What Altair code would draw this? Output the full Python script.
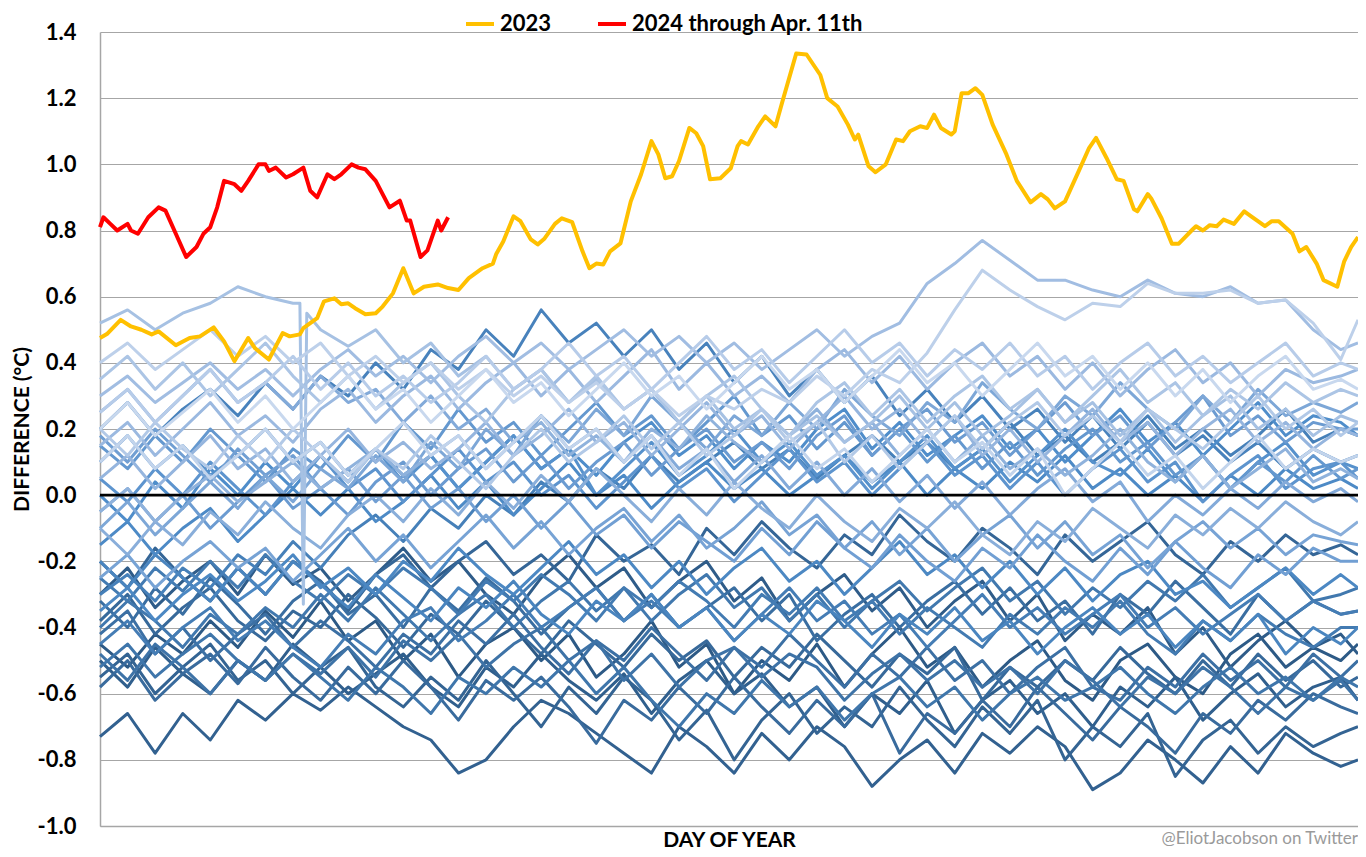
import altair as alt
import pandas as pd

# ---------------- data ----------------
GRID_DAYS = [1, 9, 17, 25, 33, 41, 49, 57, 65, 73, 81, 89, 97, 105, 113, 121, 129, 137, 145, 153,
             161, 169, 177, 185, 193, 201, 209, 217, 225, 233, 241, 249, 257, 265, 273, 281, 289,
             297, 305, 313, 321, 329, 337, 345, 353, 361, 366]

BLUE = {
    1982: [-0.45,-0.52,-0.42,-0.48,-0.38,-0.46,-0.35,-0.43, -0.32,-0.44,-0.38,-0.50,-0.42,-0.55,-0.45,-0.40,
           -0.50,-0.42,-0.55,-0.48,-0.38,-0.52,-0.45,-0.60, -0.50,-0.56,-0.45,-0.58,-0.48,-0.40,-0.52,-0.46,
           -0.58,-0.50,-0.44,-0.56,-0.62,-0.50,-0.45,-0.55, -0.60,-0.48,-0.42,-0.52,-0.46,-0.50,-0.45],
    1983: [-0.30,-0.22,-0.34,-0.26,-0.20,-0.30,-0.18,-0.27, -0.22,-0.32,-0.24,-0.16,-0.26,-0.20,-0.30,-0.36,
           -0.25,-0.18,-0.28,-0.22,-0.34,-0.26,-0.20,-0.32, -0.25,-0.38,-0.30,-0.24,-0.35,-0.28,-0.40,-0.32,
           -0.26,-0.38,-0.30,-0.44,-0.36,-0.42,-0.34,-0.48, -0.40,-0.52,-0.44,-0.38,-0.46,-0.42,-0.48],
    1984: [-0.50,-0.58,-0.46,-0.54,-0.60,-0.50,-0.56,-0.45, -0.52,-0.60,-0.54,-0.48,-0.58,-0.64,-0.52,-0.58,
           -0.48,-0.56,-0.62,-0.54,-0.66,-0.56,-0.50,-0.60, -0.54,-0.64,-0.58,-0.70,-0.60,-0.66,-0.56,-0.72,
           -0.62,-0.56,-0.66,-0.60,-0.70,-0.58,-0.64,-0.55, -0.68,-0.60,-0.54,-0.64,-0.58,-0.55,-0.62],
    1985: [-0.73,-0.66,-0.78,-0.66,-0.74,-0.62,-0.68,-0.60, -0.65,-0.58,-0.64,-0.70,-0.74,-0.84,-0.80,-0.70,
           -0.62,-0.66,-0.72,-0.78,-0.84,-0.70,-0.76,-0.84, -0.72,-0.80,-0.70,-0.76,-0.88,-0.80,-0.74,-0.84,
           -0.72,-0.78,-0.70,-0.76,-0.89,-0.84,-0.74,-0.80, -0.87,-0.76,-0.84,-0.72,-0.78,-0.82,-0.80],
    1986: [-0.55,-0.48,-0.60,-0.52,-0.45,-0.56,-0.50,-0.60, -0.52,-0.46,-0.58,-0.64,-0.55,-0.62,-0.50,-0.60,
           -0.70,-0.58,-0.66,-0.55,-0.62,-0.74,-0.65,-0.80, -0.68,-0.60,-0.72,-0.64,-0.70,-0.58,-0.68,-0.76,
           -0.64,-0.72,-0.62,-0.80,-0.70,-0.76,-0.66,-0.85, -0.74,-0.68,-0.78,-0.70,-0.76,-0.72,-0.70],
    1987: [-0.20,-0.28,-0.16,-0.25,-0.32,-0.22,-0.30,-0.20, -0.26,-0.35,-0.24,-0.18,-0.28,-0.20,-0.14,-0.24,
           -0.18,-0.26,-0.12,-0.20,-0.15,-0.24,-0.10,-0.18, -0.08,-0.16,-0.22,-0.12,-0.18,-0.06,-0.14,-0.20,
           -0.10,-0.16,-0.24,-0.12,-0.20,-0.14,-0.08,-0.18, -0.24,-0.14,-0.20,-0.12,-0.18,-0.15,-0.18],
    1988: [-0.38,-0.30,-0.42,-0.34,-0.28,-0.38,-0.44,-0.35, -0.40,-0.30,-0.37,-0.46,-0.36,-0.42,-0.32,-0.40,
           -0.48,-0.38,-0.45,-0.52,-0.42,-0.50,-0.44,-0.55, -0.46,-0.52,-0.42,-0.50,-0.58,-0.48,-0.54,-0.46,
           -0.62,-0.52,-0.58,-0.50,-0.56,-0.46,-0.54,-0.60, -0.50,-0.58,-0.48,-0.56,-0.50,-0.58,-0.55],
    1989: [-0.58,-0.50,-0.62,-0.54,-0.48,-0.57,-0.46,-0.55, -0.62,-0.52,-0.60,-0.50,-0.58,-0.68,-0.56,-0.62,
           -0.55,-0.64,-0.75,-0.62,-0.68,-0.58,-0.66,-0.55, -0.64,-0.72,-0.62,-0.70,-0.60,-0.78,-0.66,-0.72,
           -0.62,-0.70,-0.58,-0.66,-0.74,-0.64,-0.70,-0.78, -0.66,-0.72,-0.62,-0.68,-0.60,-0.64,-0.66],
    1990: [-0.32,-0.40,-0.28,-0.36,-0.25,-0.33,-0.42,-0.32, -0.26,-0.36,-0.30,-0.40,-0.28,-0.35,-0.25,-0.32,
           -0.42,-0.34,-0.28,-0.38,-0.30,-0.40,-0.34,-0.28, -0.38,-0.30,-0.44,-0.36,-0.30,-0.40,-0.32,-0.26,
           -0.36,-0.28,-0.38,-0.32,-0.42,-0.30,-0.36,-0.26, -0.34,-0.42,-0.30,-0.38,-0.32,-0.36,-0.35],
    1991: [-0.42,-0.35,-0.48,-0.40,-0.50,-0.42,-0.36,-0.46, -0.38,-0.44,-0.52,-0.42,-0.48,-0.38,-0.45,-0.36,
           -0.46,-0.54,-0.44,-0.50,-0.40,-0.48,-0.56,-0.46, -0.52,-0.42,-0.50,-0.58,-0.48,-0.55,-0.46,-0.56,
           -0.50,-0.60,-0.52,-0.46,-0.58,-0.62,-0.52,-0.58, -0.48,-0.56,-0.50,-0.58,-0.48,-0.55,-0.50],
    1992: [-0.48,-0.56,-0.45,-0.52,-0.60,-0.50,-0.56,-0.48, -0.54,-0.46,-0.55,-0.44,-0.50,-0.42,-0.52,-0.45,
           -0.40,-0.50,-0.44,-0.56,-0.48,-0.58,-0.50,-0.46, -0.55,-0.48,-0.52,-0.62,-0.54,-0.48,-0.56,-0.50,
           -0.58,-0.52,-0.60,-0.50,-0.56,-0.64,-0.55,-0.60, -0.52,-0.58,-0.66,-0.58,-0.62,-0.56,-0.62],
    1993: [-0.52,-0.45,-0.55,-0.48,-0.42,-0.50,-0.56,-0.48, -0.55,-0.62,-0.52,-0.58,-0.66,-0.55,-0.60,-0.52,
           -0.58,-0.50,-0.60,-0.52,-0.62,-0.70,-0.60,-0.66, -0.56,-0.64,-0.58,-0.68,-0.60,-0.55,-0.64,-0.58,
           -0.68,-0.60,-0.55,-0.62,-0.58,-0.52,-0.60,-0.66, -0.58,-0.52,-0.60,-0.55,-0.62,-0.55,-0.58],
    1994: [-0.40,-0.32,-0.38,-0.46,-0.36,-0.42,-0.34,-0.40, -0.30,-0.38,-0.28,-0.36,-0.44,-0.36,-0.30,-0.40,
           -0.32,-0.26,-0.35,-0.28,-0.38,-0.30,-0.24,-0.34, -0.28,-0.38,-0.30,-0.40,-0.32,-0.26,-0.35,-0.28,
           -0.22,-0.32,-0.26,-0.36,-0.28,-0.34,-0.26,-0.32, -0.24,-0.34,-0.28,-0.22,-0.32,-0.30,-0.28],
    1995: [-0.25,-0.32,-0.22,-0.29,-0.20,-0.28,-0.18,-0.26, -0.32,-0.24,-0.30,-0.22,-0.28,-0.36,-0.26,-0.32,
           -0.24,-0.30,-0.38,-0.28,-0.34,-0.26,-0.32,-0.40, -0.30,-0.36,-0.28,-0.38,-0.32,-0.42,-0.34,-0.40,
           -0.46,-0.36,-0.42,-0.34,-0.40,-0.32,-0.42,-0.48, -0.38,-0.44,-0.36,-0.42,-0.46,-0.40,-0.40],
    1996: [-0.45,-0.38,-0.48,-0.40,-0.34,-0.44,-0.38,-0.46, -0.52,-0.42,-0.48,-0.38,-0.34,-0.44,-0.38,-0.30,
           -0.40,-0.34,-0.28,-0.38,-0.32,-0.40,-0.34,-0.44, -0.36,-0.28,-0.38,-0.32,-0.42,-0.36,-0.46,-0.38,
           -0.30,-0.40,-0.34,-0.42,-0.36,-0.30,-0.40,-0.34, -0.42,-0.36,-0.30,-0.38,-0.32,-0.36,-0.35],
    1997: [-0.30,-0.24,-0.32,-0.22,-0.28,-0.18,-0.24,-0.14, -0.22,-0.12,-0.06,-0.14,-0.04,-0.10,0.00,-0.06,
           0.04,-0.02,0.08,0.02,0.12,0.04,0.10,0.16, 0.08,0.14,0.05,0.12,0.18,0.10,0.16,0.08,
           0.14,0.22,0.12,0.18,0.10,0.16,0.24,0.14, 0.20,0.12,0.18,0.26,0.16,0.20,0.18],
    1998: [0.20,0.28,0.18,0.26,0.32,0.24,0.34,0.26, 0.36,0.30,0.40,0.32,0.44,0.38,0.50,0.42,
           0.56,0.46,0.52,0.42,0.50,0.38,0.46,0.34, 0.42,0.30,0.38,0.28,0.36,0.24,0.32,0.22,
           0.30,0.20,0.26,0.16,0.24,0.14,0.22,0.12, 0.18,0.10,0.16,0.08,0.14,0.10,0.12],
    1999: [-0.20,-0.28,-0.18,-0.25,-0.32,-0.22,-0.30,-0.20, -0.27,-0.34,-0.24,-0.31,-0.38,-0.28,-0.34,-0.26,
           -0.36,-0.42,-0.32,-0.38,-0.30,-0.40,-0.34,-0.44, -0.36,-0.42,-0.32,-0.38,-0.46,-0.36,-0.42,-0.34,
           -0.44,-0.38,-0.48,-0.40,-0.34,-0.42,-0.36,-0.46, -0.38,-0.44,-0.36,-0.48,-0.40,-0.45,-0.40],
    2000: [-0.35,-0.28,-0.38,-0.30,-0.24,-0.32,-0.26,-0.18, -0.28,-0.22,-0.30,-0.20,-0.26,-0.16,-0.24,-0.30,
           -0.22,-0.14,-0.24,-0.18,-0.28,-0.20,-0.30,-0.22, -0.16,-0.26,-0.20,-0.30,-0.22,-0.14,-0.24,-0.18,
           -0.28,-0.20,-0.30,-0.22,-0.32,-0.24,-0.20,-0.30, -0.26,-0.34,-0.28,-0.22,-0.30,-0.24,-0.28],
    2001: [-0.15,-0.08,-0.18,-0.10,-0.04,-0.14,-0.06,0.02, -0.06,0.02,-0.08,-0.02,0.06,-0.04,0.04,-0.06,
           0.02,0.10,0.00,0.06,-0.04,0.04,0.10,0.02, 0.08,0.00,0.06,0.12,0.04,0.10,0.00,0.08,
           0.02,0.10,0.04,0.12,0.02,0.08,0.00,0.06, -0.02,0.06,0.00,0.08,0.02,0.05,0.02],
    2002: [0.00,-0.08,0.04,-0.04,0.08,0.00,0.10,0.02, 0.12,0.04,0.14,0.06,0.12,0.02,0.10,0.18,
           0.08,0.14,0.06,0.16,0.22,0.12,0.18,0.08, 0.16,0.10,0.20,0.26,0.14,0.22,0.12,0.18,
           0.24,0.14,0.20,0.10,0.18,0.26,0.16,0.22, 0.12,0.20,0.28,0.18,0.24,0.22,0.18],
    2003: [0.10,0.18,0.08,0.15,0.06,0.12,0.20,0.10, 0.16,0.06,0.14,0.04,0.12,0.02,0.10,0.18,
           0.08,0.14,0.00,0.08,0.16,0.06,0.12,0.20, 0.10,0.16,0.06,0.12,0.02,0.10,0.18,0.08,
           0.14,0.04,0.12,0.20,0.10,0.06,0.14,0.04, 0.12,0.02,0.10,0.16,0.06,0.10,0.08],
    2004: [0.05,-0.02,0.08,0.00,0.10,0.02,-0.06,0.04, 0.12,0.02,0.08,-0.02,0.06,0.14,0.04,0.10,
           0.00,0.06,-0.04,0.04,0.12,0.02,0.08,-0.02, 0.06,0.14,0.04,0.10,0.00,0.08,0.16,0.06,
           0.12,0.02,0.10,0.00,0.08,0.14,0.04,0.10, -0.02,0.06,0.12,0.02,0.08,0.10,0.05],
    2005: [0.15,0.08,0.18,0.10,0.20,0.12,0.04,0.14, 0.08,0.18,0.10,0.22,0.14,0.26,0.16,0.22,
           0.12,0.20,0.28,0.18,0.24,0.14,0.22,0.30, 0.18,0.24,0.14,0.22,0.12,0.20,0.10,0.18,
           0.08,0.16,0.06,0.14,0.20,0.10,0.16,0.06, 0.12,0.02,0.10,0.04,0.12,0.05,0.08],
    2006: [-0.05,0.02,-0.08,0.00,-0.10,-0.02,0.06,-0.04, 0.02,-0.06,0.04,0.10,0.00,0.08,0.14,0.04,
           0.12,0.02,0.10,0.16,0.06,0.14,0.20,0.10, 0.16,0.08,0.18,0.24,0.12,0.20,0.26,0.16,
           0.22,0.12,0.20,0.28,0.18,0.24,0.14,0.22, 0.30,0.18,0.24,0.16,0.22,0.20,0.20],
    2007: [0.18,0.10,0.20,0.12,0.04,0.14,0.06,0.12, 0.02,0.08,-0.02,0.06,-0.04,0.02,-0.08,0.00,
           -0.10,-0.02,-0.12,-0.06,-0.16,-0.08,-0.14,-0.20, -0.10,-0.18,-0.08,-0.16,-0.22,-0.12,-0.20,-0.26,
           -0.16,-0.22,-0.12,-0.20,-0.26,-0.16,-0.24,-0.14, -0.22,-0.28,-0.18,-0.24,-0.16,-0.20,-0.20],
    2008: [-0.25,-0.18,-0.28,-0.20,-0.14,-0.22,-0.16,-0.26, -0.18,-0.10,-0.20,-0.12,-0.22,-0.14,-0.06,-0.16,
           -0.08,-0.18,-0.10,-0.04,-0.14,-0.06,-0.16,-0.10, -0.02,-0.12,-0.06,-0.16,-0.08,-0.18,-0.10,-0.20,
           -0.12,-0.06,-0.16,-0.08,-0.18,-0.12,-0.22,-0.14, -0.08,-0.16,-0.10,-0.18,-0.12,-0.14,-0.15],
    2009: [-0.10,-0.02,-0.12,-0.04,0.04,-0.04,0.06,-0.02, 0.08,0.02,0.12,0.04,0.16,0.08,0.20,0.12,
           0.24,0.16,0.26,0.18,0.30,0.22,0.14,0.24, 0.18,0.28,0.20,0.32,0.24,0.18,0.28,0.22,
           0.34,0.26,0.20,0.30,0.24,0.34,0.26,0.20, 0.30,0.22,0.32,0.24,0.28,0.25,0.28],
    2010: [0.25,0.32,0.22,0.30,0.38,0.28,0.34,0.26, 0.36,0.28,0.32,0.22,0.30,0.20,0.26,0.16,
           0.24,0.14,0.20,0.10,0.18,0.08,0.14,0.04, 0.12,0.02,0.10,0.00,0.08,-0.02,0.06,-0.04,
           0.04,-0.06,0.02,0.08,-0.02,0.04,-0.08,0.00, -0.06,0.02,-0.04,0.04,-0.02,0.02,-0.02],
    2011: [-0.10,-0.18,-0.08,-0.15,-0.05,-0.12,-0.02,-0.10, -0.16,-0.06,0.00,-0.08,0.02,-0.06,0.04,-0.04,
           0.06,-0.02,0.08,0.00,-0.08,0.02,-0.06,0.04, -0.04,-0.10,0.00,-0.08,-0.14,-0.04,-0.10,-0.02,
           -0.12,-0.18,-0.08,-0.14,-0.04,-0.10,-0.16,-0.06, -0.12,-0.04,-0.10,-0.02,-0.08,-0.12,-0.08],
    2012: [-0.05,0.02,-0.08,0.00,0.06,-0.02,0.04,0.10, 0.02,0.08,0.14,0.06,0.12,0.18,0.08,0.16,
           0.22,0.12,0.18,0.10,0.20,0.14,0.24,0.16, 0.10,0.18,0.26,0.16,0.22,0.12,0.20,0.10,
           0.18,0.08,0.14,0.06,0.12,0.20,0.10,0.04, 0.12,0.02,0.08,0.14,0.04,0.08,0.05],
    2013: [0.05,0.12,0.02,0.10,0.18,0.08,0.14,0.04, 0.12,0.20,0.10,0.16,0.08,0.14,0.22,0.12,
           0.18,0.26,0.16,0.22,0.12,0.20,0.28,0.18, 0.24,0.14,0.22,0.30,0.20,0.26,0.16,0.24,
           0.12,0.20,0.10,0.18,0.26,0.16,0.22,0.12, 0.20,0.26,0.16,0.22,0.14,0.20,0.18],
    2014: [0.15,0.22,0.12,0.20,0.28,0.18,0.24,0.16, 0.26,0.32,0.22,0.30,0.36,0.26,0.34,0.40,
           0.30,0.38,0.28,0.36,0.44,0.32,0.40,0.30, 0.36,0.28,0.38,0.44,0.34,0.42,0.32,0.40,
           0.46,0.36,0.42,0.32,0.40,0.30,0.38,0.44, 0.34,0.40,0.30,0.38,0.34,0.36,0.38],
    2015: [0.30,0.36,0.28,0.34,0.40,0.32,0.38,0.30, 0.38,0.44,0.36,0.42,0.34,0.42,0.48,0.40,
           0.46,0.38,0.44,0.50,0.42,0.48,0.40,0.46, 0.38,0.44,0.50,0.42,0.48,0.52,0.64,0.70,
           0.77,0.71,0.65,0.65,0.62,0.60,0.65,0.61, 0.60,0.63,0.58,0.59,0.50,0.44,0.46],
    2016: [0.52,0.56,0.50,0.55,0.58,0.63,0.60,0.58, 0.50,0.45,0.50,0.40,0.46,0.36,0.42,0.32,
           0.38,0.28,0.35,0.26,0.32,0.22,0.30,0.20, 0.26,0.18,0.24,0.16,0.22,0.30,0.20,0.28,
           0.18,0.24,0.32,0.22,0.28,0.18,0.26,0.16, 0.24,0.30,0.20,0.26,0.18,0.24,0.22],
    2017: [0.35,0.42,0.32,0.40,0.30,0.38,0.46,0.36, 0.28,0.36,0.26,0.34,0.40,0.30,0.22,0.32,
           0.38,0.28,0.36,0.26,0.32,0.22,0.30,0.36, 0.26,0.18,0.28,0.34,0.24,0.32,0.22,0.30,
           0.36,0.26,0.32,0.22,0.30,0.38,0.28,0.34, 0.24,0.32,0.26,0.34,0.28,0.32,0.30],
    2018: [0.20,0.12,0.22,0.14,0.08,0.18,0.10,0.20, 0.12,0.04,0.14,0.08,0.18,0.10,0.02,0.12,
           0.20,0.10,0.16,0.24,0.14,0.22,0.12,0.18, 0.26,0.16,0.22,0.10,0.18,0.08,0.16,0.24,
           0.14,0.22,0.28,0.18,0.24,0.16,0.26,0.20, 0.14,0.22,0.30,0.20,0.26,0.18,0.22],
    2019: [0.25,0.32,0.22,0.30,0.38,0.28,0.34,0.42, 0.32,0.40,0.30,0.36,0.28,0.34,0.42,0.32,
           0.38,0.46,0.36,0.42,0.32,0.40,0.48,0.38, 0.44,0.34,0.42,0.50,0.40,0.46,0.36,0.44,
           0.38,0.46,0.36,0.42,0.32,0.40,0.46,0.36, 0.42,0.34,0.40,0.46,0.36,0.40,0.38],
    2020: [0.40,0.46,0.38,0.44,0.50,0.42,0.48,0.40, 0.46,0.36,0.42,0.34,0.40,0.32,0.38,0.30,
           0.36,0.28,0.34,0.26,0.32,0.24,0.30,0.26, 0.32,0.28,0.36,0.30,0.38,0.34,0.43,0.56,
           0.68,0.62,0.57,0.53,0.58,0.57,0.64,0.61, 0.61,0.62,0.58,0.59,0.52,0.41,0.53],
    2021: [0.10,0.18,0.08,0.15,0.05,0.12,0.20,0.10, 0.16,0.06,0.14,0.22,0.12,0.18,0.08,0.16,
           0.24,0.14,0.20,0.10,0.18,0.06,0.14,0.02, 0.10,0.18,0.08,0.14,0.04,0.12,0.20,0.10,
           0.16,0.06,0.14,0.00,0.08,0.16,0.06,0.12, 0.02,0.10,0.18,0.08,0.14,0.10,0.12],
    2022: [0.20,0.28,0.18,0.25,0.32,0.22,0.30,0.20, 0.28,0.36,0.26,0.32,0.22,0.30,0.38,0.28,
           0.34,0.24,0.32,0.40,0.30,0.36,0.26,0.34, 0.42,0.32,0.38,0.28,0.36,0.44,0.34,0.40,
           0.30,0.38,0.46,0.36,0.42,0.32,0.40,0.30, 0.38,0.28,0.36,0.42,0.32,0.35,0.32],
}

# the leap-day glitch visible as a vertical spike in 2016
GLITCH_2016_DAYS = [59, 60, 61]
GLITCH_2016_VALUES = [0.58, -0.33, 0.55]

DAYS_2023 = [1,3,7,10,13,16,18,23,27,30,34,37,40,44,46,50,54,56,59,60,64,66,69,71,73,75,78,81,83,86,89,92,95,99,
             102,105,108,112,115,116,118,121,123,126,128,130,133,135,138,141,143,145,147,149,152,155,158,161,163,165,
             167,169,172,174,176,178,181,184,186,187,189,192,194,197,199,203,206,210,212,215,218,220,221,224,226,229,
             232,234,236,239,241,243,245,248,249,251,253,255,257,260,264,267,271,274,276,278,281,285,288,290,293,296,
             298,301,302,305,306,309,312,314,318,319,321,323,325,327,330,333,335,339,341,343,347,349,351,354,356,360,
             362,364,366]
VALS_2023 = [0.475,0.487,0.53,0.51,0.50,0.486,0.495,0.453,0.475,0.48,0.507,0.465,0.405,0.475,0.444,0.41,0.49,0.48,0.486,0.505,
             0.535,0.586,0.595,0.577,0.58,0.565,0.547,0.55,0.57,0.61,0.686,0.61,0.63,0.637,
             0.626,0.62,0.656,0.686,0.70,0.73,0.767,0.843,0.828,0.773,0.758,0.776,0.82,0.837,0.825,0.737,0.686,0.70,0.697,0.737,
             0.761,0.888,0.97,1.07,1.03,0.958,
             0.964,1.01,1.11,1.094,1.055,0.955,0.958,0.988,1.055,1.07,1.06,1.115,1.145,1.115,1.19,1.335,1.332,1.27,1.20,1.175,
             1.12,1.075,1.09,0.994,0.976,1.00,
             1.075,1.07,1.10,1.115,1.11,1.15,1.11,1.09,1.10,1.215,1.215,1.23,1.21,1.12,1.03,0.95,0.885,0.91,0.894,0.867,
             0.888,0.98,1.05,1.08,1.02,0.955,
             0.95,0.864,0.858,0.91,0.897,0.837,0.76,0.76,0.803,0.813,0.80,0.816,0.813,0.833,0.82,0.858,0.843,0.813,0.828,0.828,
             0.79,0.737,0.75,0.70,0.65,0.63,
             0.707,0.75,0.78]

DAYS_2024 = [1,2,4,6,9,10,12,15,18,20,23,26,29,31,33,35,37,40,42,44,47,49,50,52,55,57,60,62,64,67,69,71,74,76,78,
             81,83,85,88,90,91,94,96,99,100,102]
VALS_2024 = [0.81,0.84,0.82,0.80,0.82,0.80,0.79,0.84,0.87,0.86,0.79,0.72,0.75,0.79,0.81,0.87,0.95,0.94,0.92,0.95,
             1.00,1.00,0.98,0.99,0.96,0.97,0.99,0.92,0.90,0.97,0.955,0.97,1.00,0.99,0.985,0.95,0.91,0.87,0.89,0.83,
             0.83,0.72,0.74,0.83,0.80,0.84]

SERIES_NAMES = ["2023", "2024 through Apr. 11th"]
Y_TICKS = [-1.0, -0.9, -0.8, -0.7, -0.6, -0.5, -0.4, -0.3, -0.2, -0.1, 0.0,
           0.1, 0.2, 0.3, 0.4, 0.5, 0.6, 0.7, 0.8, 0.9, 1.0, 1.1, 1.2, 1.3, 1.4]
WATERMARK = "@EliotJacobson on Twitter"

# ---------------- tables ----------------
for y, v in BLUE.items():
    assert len(v) == len(GRID_DAYS), (y, len(v))
assert len(DAYS_2023) == len(VALS_2023), (len(DAYS_2023), len(VALS_2023))
assert len(DAYS_2024) == len(VALS_2024), (len(DAYS_2024), len(VALS_2024))

rows = []
for year, vals in BLUE.items():
    for d, v in zip(GRID_DAYS, vals):
        rows.append({"year": year, "day": d, "value": v})
for d, v in zip(GLITCH_2016_DAYS, GLITCH_2016_VALUES):
    rows.append({"year": 2016, "day": d, "value": v})
blue_df = pd.DataFrame(rows).sort_values(["year", "day"]).reset_index(drop=True)

hl_rows = [{"series": SERIES_NAMES[0], "day": d, "value": v} for d, v in zip(DAYS_2023, VALS_2023)]
hl_rows += [{"series": SERIES_NAMES[1], "day": d, "value": v} for d, v in zip(DAYS_2024, VALS_2024)]
hl_df = pd.DataFrame(hl_rows)

FONT = "Lato"
W, H = 1258, 794

x_enc = alt.X("day:Q", scale=alt.Scale(domain=[1, 366], nice=False, zero=False),
              axis=alt.Axis(title="DAY OF YEAR", labels=False, ticks=False, grid=False,
                            domain=True, domainColor="#a6a6a6", domainWidth=1.5,
                            titleFont=FONT, titleFontSize=21, titleFontWeight="bold",
                            titleColor="#000000", titlePadding=3))
y_enc = alt.Y("value:Q", scale=alt.Scale(domain=[-1.0, 1.4], nice=False, zero=False),
              axis=alt.Axis(title="DIFFERENCE (°C)", values=Y_TICKS, ticks=False,
                            grid=True, gridColor="#a6a6a6", gridWidth=1,
                            domain=True, domainColor="#a6a6a6", domainWidth=1.5,
                            labelExpr="abs(round(datum.value*10)) % 2 == 0 ? replace(format(datum.value, '.1f'), '\u2212', '-') : ''",
                            labelFont=FONT, labelFontSize=22, labelFontWeight="bold",
                            labelColor="#000000", labelPadding=24,
                            titleFont=FONT, titleFontSize=21, titleFontWeight="bold",
                            titleColor="#000000", titlePadding=5))

blue = alt.Chart(blue_df).mark_line(strokeWidth=3, strokeJoin="round").encode(
    x=x_enc, y=y_enc,
    color=alt.Color("year:Q", scale=alt.Scale(domain=[1982, 2002, 2022],
                                              range=["#2d5a86", "#4f8dca", "#c8d8ee"]),
                    legend=None),
    detail="year:N",
    order="day:Q",
)

zero = alt.Chart(pd.DataFrame({"value": [0.0]})).mark_rule(color="#000000", strokeWidth=2.8).encode(
    y=alt.Y("value:Q")
)

hl = alt.Chart(hl_df).mark_line(strokeWidth=4, strokeJoin="round").encode(
    x="day:Q", y="value:Q",
    color=alt.Color("series:N",
                    scale=alt.Scale(domain=SERIES_NAMES, range=["#FFC000", "#FF0000"]),
                    legend=alt.Legend(title=None, orient="none", legendX=364, legendY=-24,
                                      direction="horizontal", symbolType="stroke",
                                      symbolStrokeWidth=4, symbolSize=784,
                                      labelFont=FONT, labelFontSize=22, labelFontWeight="bold",
                                      labelColor="#000000", labelOffset=4, columnPadding=38,
                                      labelLimit=0)),
    detail="series:N",
    order="day:Q",
)

wm = alt.Chart(pd.DataFrame({"t": [WATERMARK]})).mark_text(
    align="right", baseline="middle", font=FONT, fontSize=17, color="#9a9a9a"
).encode(text="t:N", x=alt.value(W), y=alt.value(H + 13))

chart = alt.layer(blue, zero, hl, wm).resolve_scale(color="independent").properties(
    width=W, height=H,
    autosize=alt.AutoSizeParams(type="none"),
    padding={"left": 92, "top": 24, "right": 0, "bottom": 23},
    background="#ffffff",
).configure_view(strokeWidth=0)

chart.save("out.html", embed_options={"renderer": "svg", "actions": False})
